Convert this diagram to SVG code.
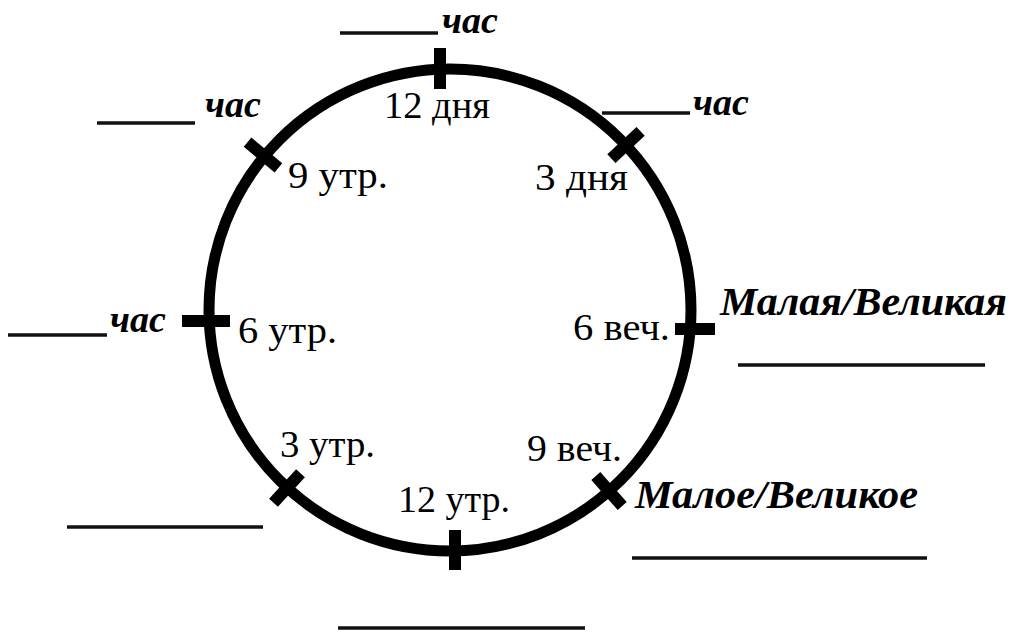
<svg xmlns="http://www.w3.org/2000/svg" width="1013" height="632" viewBox="0 0 1013 632">
<style>
.face{fill:none;stroke:#000;stroke-width:11}
.tick{stroke:#000;stroke-width:12;stroke-linecap:butt}
.blank{stroke:#111;stroke-width:3.5}
.lbl{font-family:"Liberation Serif",serif;font-size:38px;fill:#000}
.hr{font-family:"Liberation Serif",serif;font-size:38px;font-style:italic;font-weight:bold;fill:#000}
.big{font-size:41px}
</style>
<rect width="1013" height="632" fill="#fff"/>
<g id="clock">
<circle class="face" cx="450" cy="310" r="241"/>
</g>
<g id="connectors">
<line class="tick" x1="440" y1="48" x2="440" y2="89"/>
<line class="tick" x1="247.6" y1="142.2" x2="278.4" y2="167.8"/>
<line class="tick" x1="640.6" y1="131.3" x2="611.4" y2="158.7"/>
<line class="tick" x1="182" y1="321" x2="230" y2="321"/>
<line class="tick" x1="675" y1="329" x2="715" y2="329"/>
<line class="tick" x1="273.5" y1="502.7" x2="300.5" y2="473.3"/>
<line class="tick" x1="622.2" y1="506" x2="595.8" y2="476"/>
<line class="tick" x1="455" y1="530" x2="455" y2="570"/>
</g>
<g id="blanks">
<line class="blank" x1="340" y1="33" x2="438" y2="33"/>
<line class="blank" x1="97" y1="123" x2="195" y2="123"/>
<line class="blank" x1="602" y1="113" x2="690" y2="113"/>
<line class="blank" x1="8" y1="335" x2="107" y2="335"/>
<line class="blank" x1="738" y1="365" x2="985" y2="365"/>
<line class="blank" x1="67" y1="527" x2="263" y2="527"/>
<line class="blank" x1="632" y1="558" x2="927" y2="558"/>
<line class="blank" x1="338" y1="628" x2="585" y2="628"/>
</g>
<g id="time-labels">
<text class="lbl" x="384" y="118" textLength="106" lengthAdjust="spacingAndGlyphs">12 дня</text>
<text class="lbl" x="288" y="188" textLength="100" lengthAdjust="spacingAndGlyphs">9 утр.</text>
<text class="lbl" x="535" y="190" textLength="93" lengthAdjust="spacingAndGlyphs">3 дня</text>
<text class="lbl" x="238" y="343" textLength="99" lengthAdjust="spacingAndGlyphs">6 утр.</text>
<text class="lbl" x="573" y="340" textLength="97" lengthAdjust="spacingAndGlyphs">6 веч.</text>
<text class="lbl" x="280" y="457" textLength="95" lengthAdjust="spacingAndGlyphs">3 утр.</text>
<text class="lbl" x="527" y="461" textLength="95" lengthAdjust="spacingAndGlyphs">9 веч.</text>
<text class="lbl" x="398" y="512" textLength="112" lengthAdjust="spacingAndGlyphs">12 утр.</text>
</g>
<g id="hour-labels">
<text class="hr" x="442" y="33">час</text>
<text class="hr" x="205" y="117">час</text>
<text class="hr" x="693" y="115">час</text>
<text class="hr" x="110" y="332">час</text>
<text class="hr big" x="720" y="315" textLength="287" lengthAdjust="spacingAndGlyphs">Малая/Великая</text>
<text class="hr big" x="635" y="508" textLength="283" lengthAdjust="spacingAndGlyphs">Малое/Великое</text>
</g>
</svg>
